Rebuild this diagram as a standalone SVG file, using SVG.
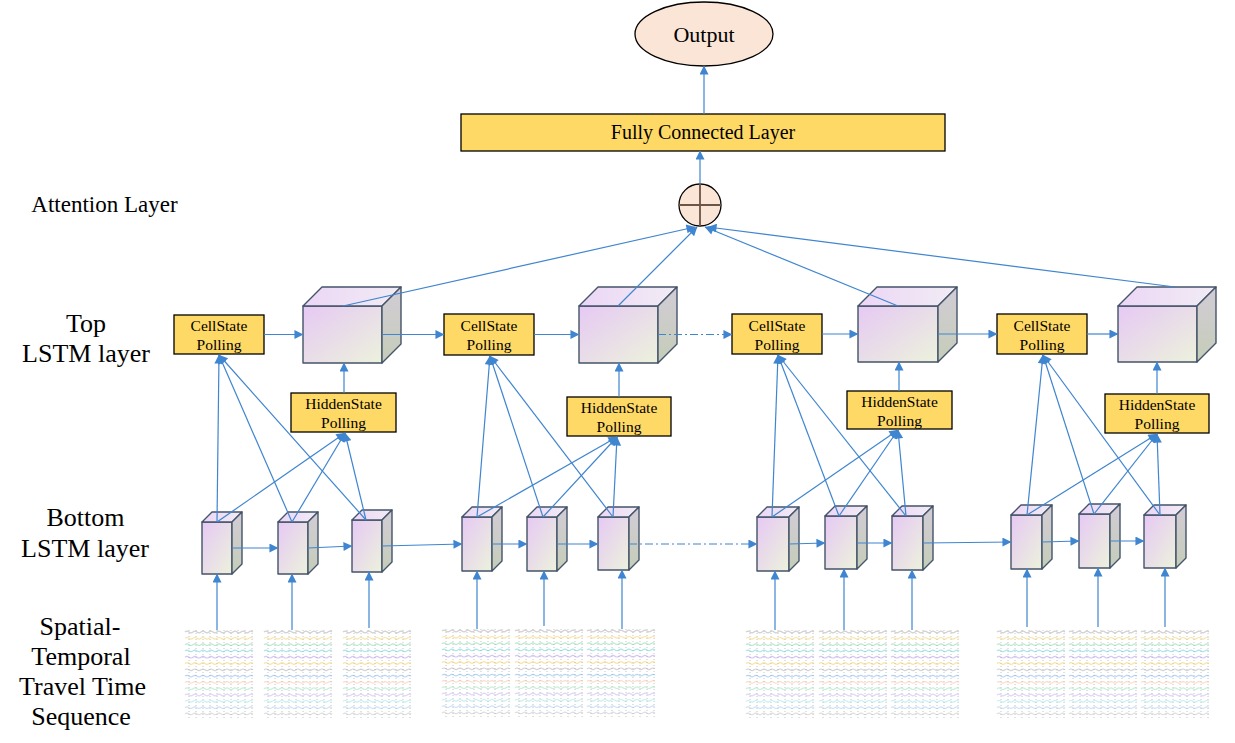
<svg xmlns="http://www.w3.org/2000/svg" xmlns:xlink="http://www.w3.org/1999/xlink" width="1235" height="743" viewBox="0 0 1235 743">
<style>
.lbl{font-family:"Liberation Serif",Tinos,"Times New Roman","DejaVu Serif","Noto Serif",serif;fill:#000;text-anchor:middle}
.box{fill:#FFD966;stroke:#000;stroke-width:1.3}
.bt{font-family:"Liberation Serif",Tinos,"Times New Roman","DejaVu Serif","Noto Serif",serif;font-size:15.5px;fill:#000;text-anchor:middle}
.fr{fill:url(#gFront);stroke:#44546A;stroke-width:1.4;stroke-linejoin:round}
.tp{fill:url(#gTop);stroke:#44546A;stroke-width:1.4;stroke-linejoin:round}
.sd{fill:url(#gSide);stroke:#44546A;stroke-width:1.4;stroke-linejoin:round}
.ca{fill:none;stroke:#3F85CF;stroke-width:1.2;marker-end:url(#ah)}
.dd{fill:none;stroke:#3F85CF;stroke-width:1.2;stroke-dasharray:8 3 2 3;marker-end:url(#ah)}
.w{fill:none;stroke-width:1.2;opacity:0.45}
</style>
<defs>
<linearGradient id="gFront" x1="0" y1="0" x2="1" y2="1"><stop offset="0" stop-color="#E6C9F4"/><stop offset="1" stop-color="#ECF2DC"/></linearGradient>
<linearGradient id="gTop" x1="0" y1="0" x2="1" y2="0"><stop offset="0" stop-color="#ECD6F6"/><stop offset="1" stop-color="#F1ECF4"/></linearGradient>
<linearGradient id="gSide" x1="0" y1="0" x2="0" y2="1"><stop offset="0" stop-color="#D2CCD6"/><stop offset="1" stop-color="#C5CDB8"/></linearGradient>
<marker id="ah" viewBox="0 0 10 10" refX="9.5" refY="5" markerWidth="10" markerHeight="9" markerUnits="userSpaceOnUse" orient="auto"><path d="M0,0 L10,5 L0,10 z" fill="#3F85CF"/></marker>
<path id="wave" d="M0,0 q2,-1.6 4,0 t4,0 t4,0 t4,0 t4,0 t4,0 t4,0 t4,0 t4,0 t4,0 t4,0 t4,0 t4,0 t4,0 t4,0 t4,0 t4,0"/>
<g id="seq">
<g stroke="#8A8A8A" stroke-width="0.9" stroke-dasharray="1 2" opacity="0.55">
<line x1="4" y1="0" x2="4" y2="88"/><line x1="11" y1="0" x2="11" y2="88"/><line x1="18" y1="0" x2="18" y2="88"/><line x1="25" y1="0" x2="25" y2="88"/><line x1="32" y1="0" x2="32" y2="88"/><line x1="39" y1="0" x2="39" y2="88"/><line x1="46" y1="0" x2="46" y2="88"/><line x1="53" y1="0" x2="53" y2="88"/><line x1="60" y1="0" x2="60" y2="88"/><line x1="67" y1="0" x2="67" y2="88"/>
</g>
<use href="#wave" y="2" class="w" stroke="#9A9A9A"/>
<use href="#wave" y="8.3" class="w" stroke="#F2C23A"/>
<use href="#wave" y="14.6" class="w" stroke="#5DCB8E"/>
<use href="#wave" y="20.9" class="w" stroke="#3FC7C9"/>
<use href="#wave" y="27.2" class="w" stroke="#A486E6"/>
<use href="#wave" y="33.5" class="w" stroke="#F2C23A"/>
<use href="#wave" y="39.8" class="w" stroke="#A0A0A0"/>
<use href="#wave" y="46.1" class="w" stroke="#5AA6E6"/>
<use href="#wave" y="52.4" class="w" stroke="#F4B08A"/>
<use href="#wave" y="58.7" class="w" stroke="#86DCA9"/>
<use href="#wave" y="65" class="w" stroke="#BBA4EE"/>
<use href="#wave" y="71.3" class="w" stroke="#86DCDC"/>
<use href="#wave" y="77.6" class="w" stroke="#8EBDED"/>
<use href="#wave" y="83.9" class="w" stroke="#B5B5B5"/>
</g>
</defs>
<rect width="1235" height="743" fill="#fff"/>

<g id="labels">
<text class="lbl" x="104.5" y="212" font-size="23">Attention Layer</text>
<text class="lbl" x="86" y="332" font-size="26">Top</text>
<text class="lbl" x="86" y="362" font-size="26">LSTM layer</text>
<text class="lbl" x="85.5" y="526" font-size="26">Bottom</text>
<text class="lbl" x="85" y="557" font-size="26">LSTM layer</text>
<text class="lbl" x="80" y="635" font-size="26">Spatial-</text>
<text class="lbl" x="81" y="665" font-size="26">Temporal</text>
<text class="lbl" x="82.5" y="695" font-size="26">Travel Time</text>
<text class="lbl" x="81" y="725" font-size="26">Sequence</text>
</g>

<g id="output"><ellipse cx="704" cy="34" rx="69" ry="32" fill="#FBE5D6" stroke="#000" stroke-width="1.3"/><text class="lbl" x="704" y="42" font-size="22">Output</text></g>
<g id="fc"><rect class="box" x="461" y="114" width="484" height="37"/><text class="lbl" x="703" y="138.5" font-size="20">Fully Connected Layer</text></g>
<g id="attention"><circle cx="700" cy="205" r="21" fill="#FBE5D6" stroke="#000" stroke-width="1.3"/><path d="M679,205 H721 M700,184 V226" stroke="#6B5646" stroke-width="1.8"/></g>

<g id="cs1"><rect class="box" x="174" y="315" width="90" height="39"/><text class="bt" x="219" y="331">CellState</text><text class="bt" x="219" y="350">Polling</text></g>
<g id="cs2"><rect class="box" x="444" y="314" width="90" height="41"/><text class="bt" x="489" y="331">CellState</text><text class="bt" x="489" y="350">Polling</text></g>
<g id="cs3"><rect class="box" x="732" y="314" width="90" height="40"/><text class="bt" x="777" y="331">CellState</text><text class="bt" x="777" y="350">Polling</text></g>
<g id="cs4"><rect class="box" x="997" y="314" width="90" height="40"/><text class="bt" x="1042" y="331">CellState</text><text class="bt" x="1042" y="350">Polling</text></g>

<g id="hs1"><rect class="box" x="291" y="393" width="105" height="39"/><text class="bt" x="343.5" y="409">HiddenState</text><text class="bt" x="343.5" y="428">Polling</text></g>
<g id="hs2"><rect class="box" x="567" y="397" width="104" height="39"/><text class="bt" x="619" y="413">HiddenState</text><text class="bt" x="619" y="432">Polling</text></g>
<g id="hs3"><rect class="box" x="847" y="391" width="105" height="38"/><text class="bt" x="899.5" y="407">HiddenState</text><text class="bt" x="899.5" y="426">Polling</text></g>
<g id="hs4"><rect class="box" x="1105" y="394" width="104" height="39"/><text class="bt" x="1157" y="410">HiddenState</text><text class="bt" x="1157" y="429">Polling</text></g>

<g id="top1"><rect class="fr" x="303" y="306" width="79" height="57"/><polygon class="tp" points="303,306 322,287 401,287 382,306"/><polygon class="sd" points="382,306 401,287 401,344 382,363"/></g>
<g id="top2"><rect class="fr" x="579" y="306" width="79" height="57"/><polygon class="tp" points="579,306 598,287 677,287 658,306"/><polygon class="sd" points="658,306 677,287 677,344 658,363"/></g>
<g id="top3"><rect class="fr" x="858" y="306" width="80" height="56"/><polygon class="tp" points="858,306 877,287 957,287 938,306"/><polygon class="sd" points="938,306 957,287 957,343 938,362"/></g>
<g id="top4"><rect class="fr" x="1118" y="306" width="79" height="56"/><polygon class="tp" points="1118,306 1137,287 1216,287 1197,306"/><polygon class="sd" points="1197,306 1216,287 1216,343 1197,362"/></g>

<g id="bot1"><rect class="fr" x="202" y="522" width="30" height="52"/><polygon class="tp" points="202,522 212,512 242,512 232,522"/><polygon class="sd" points="232,522 242,512 242,564 232,574"/></g>
<g id="bot2"><rect class="fr" x="278" y="522" width="30" height="52"/><polygon class="tp" points="278,522 288,512 318,512 308,522"/><polygon class="sd" points="308,522 318,512 318,564 308,574"/></g>
<g id="bot3"><rect class="fr" x="352" y="520" width="30" height="52"/><polygon class="tp" points="352,520 362,510 392,510 382,520"/><polygon class="sd" points="382,520 392,510 392,562 382,572"/></g>
<g id="bot4"><rect class="fr" x="462" y="517" width="30" height="54"/><polygon class="tp" points="462,517 472,507 502,507 492,517"/><polygon class="sd" points="492,517 502,507 502,561 492,571"/></g>
<g id="bot5"><rect class="fr" x="527" y="517" width="30" height="54"/><polygon class="tp" points="527,517 537,507 567,507 557,517"/><polygon class="sd" points="557,517 567,507 567,561 557,571"/></g>
<g id="bot6"><rect class="fr" x="598" y="517" width="31" height="53"/><polygon class="tp" points="598,517 608,507 639,507 629,517"/><polygon class="sd" points="629,517 639,507 639,560 629,570"/></g>
<g id="bot7"><rect class="fr" x="757" y="517" width="32" height="54"/><polygon class="tp" points="757,517 767,507 799,507 789,517"/><polygon class="sd" points="789,517 799,507 799,561 789,571"/></g>
<g id="bot8"><rect class="fr" x="825" y="516" width="32" height="53"/><polygon class="tp" points="825,516 835,506 867,506 857,516"/><polygon class="sd" points="857,516 867,506 867,559 857,569"/></g>
<g id="bot9"><rect class="fr" x="892" y="516" width="31" height="54"/><polygon class="tp" points="892,516 902,506 933,506 923,516"/><polygon class="sd" points="923,516 933,506 933,560 923,570"/></g>
<g id="bot10"><rect class="fr" x="1011" y="515" width="31" height="54"/><polygon class="tp" points="1011,515 1021,505 1052,505 1042,515"/><polygon class="sd" points="1042,515 1052,505 1052,559 1042,569"/></g>
<g id="bot11"><rect class="fr" x="1079" y="514" width="31" height="54"/><polygon class="tp" points="1079,514 1089,504 1120,504 1110,514"/><polygon class="sd" points="1110,514 1120,504 1120,558 1110,568"/></g>
<g id="bot12"><rect class="fr" x="1144" y="515" width="32" height="53"/><polygon class="tp" points="1144,515 1154,505 1186,505 1176,515"/><polygon class="sd" points="1176,515 1186,505 1186,558 1176,568"/></g>

<g id="sequences">
<use id="seq1" href="#seq" x="185" y="630"/>
<use id="seq2" href="#seq" x="264" y="630"/>
<use id="seq3" href="#seq" x="343" y="630"/>
<use id="seq4" href="#seq" x="442" y="629"/>
<use id="seq5" href="#seq" x="515" y="629"/>
<use id="seq6" href="#seq" x="587" y="629"/>
<use id="seq7" href="#seq" x="746" y="630"/>
<use id="seq8" href="#seq" x="819" y="630"/>
<use id="seq9" href="#seq" x="891" y="630"/>
<use id="seq10" href="#seq" x="997" y="630"/>
<use id="seq11" href="#seq" x="1069" y="630"/>
<use id="seq12" href="#seq" x="1141" y="630"/>
</g>

<g id="connectors">
<line class="ca" x1="704" y1="114" x2="704" y2="66"/>
<line class="ca" x1="700" y1="184" x2="700" y2="151"/>
<line class="ca" x1="343" y1="306" x2="695" y2="227"/>
<line class="ca" x1="618" y1="306" x2="697" y2="227"/>
<line class="ca" x1="898" y1="306" x2="705" y2="227"/>
<line class="ca" x1="1175" y1="287" x2="708" y2="227"/>

<line class="ca" x1="264" y1="334.5" x2="303" y2="334.5"/>
<line class="ca" x1="382" y1="334.5" x2="444" y2="334.5"/>
<line class="ca" x1="534" y1="334.5" x2="579" y2="334.5"/>
<line class="dd" x1="658" y1="334.5" x2="732" y2="334.5"/>
<line class="ca" x1="822" y1="334" x2="858" y2="334"/>
<line class="ca" x1="938" y1="334" x2="997" y2="334"/>
<line class="ca" x1="1087" y1="334" x2="1118" y2="334"/>

<line class="ca" x1="344" y1="393" x2="344" y2="363"/>
<line class="ca" x1="619" y1="397" x2="619" y2="363"/>
<line class="ca" x1="899" y1="391" x2="899" y2="362"/>
<line class="ca" x1="1157" y1="394" x2="1157" y2="362"/>

<line class="ca" x1="217" y1="522" x2="219" y2="355"/>
<line class="ca" x1="292" y1="522" x2="219" y2="355"/>
<line class="ca" x1="366" y1="520" x2="219" y2="355"/>
<line class="ca" x1="217" y1="522" x2="345" y2="433"/>
<line class="ca" x1="292" y1="522" x2="345" y2="433"/>
<line class="ca" x1="366" y1="520" x2="345" y2="433"/>

<line class="ca" x1="477" y1="517" x2="490" y2="356"/>
<line class="ca" x1="543" y1="517" x2="490" y2="356"/>
<line class="ca" x1="613" y1="517" x2="490" y2="356"/>
<line class="ca" x1="477" y1="517" x2="617" y2="437"/>
<line class="ca" x1="543" y1="517" x2="617" y2="437"/>
<line class="ca" x1="613" y1="517" x2="617" y2="437"/>

<line class="ca" x1="772" y1="517" x2="778" y2="355"/>
<line class="ca" x1="839" y1="516" x2="778" y2="355"/>
<line class="ca" x1="906" y1="516" x2="778" y2="355"/>
<line class="ca" x1="772" y1="517" x2="898" y2="430"/>
<line class="ca" x1="839" y1="516" x2="898" y2="430"/>
<line class="ca" x1="906" y1="516" x2="898" y2="430"/>

<line class="ca" x1="1027" y1="515" x2="1043" y2="355"/>
<line class="ca" x1="1094" y1="514" x2="1043" y2="355"/>
<line class="ca" x1="1160" y1="515" x2="1043" y2="355"/>
<line class="ca" x1="1027" y1="515" x2="1157" y2="434"/>
<line class="ca" x1="1094" y1="514" x2="1157" y2="434"/>
<line class="ca" x1="1160" y1="515" x2="1157" y2="434"/>

<line class="ca" x1="232" y1="548" x2="278" y2="548"/>
<line class="ca" x1="308" y1="548" x2="352" y2="546"/>
<line class="ca" x1="382" y1="546" x2="462" y2="544"/>
<line class="ca" x1="492" y1="544" x2="527" y2="544"/>
<line class="ca" x1="557" y1="544" x2="598" y2="544"/>
<line class="dd" x1="629" y1="544" x2="757" y2="544"/>
<line class="ca" x1="789" y1="544" x2="825" y2="543"/>
<line class="ca" x1="857" y1="543" x2="892" y2="543"/>
<line class="ca" x1="923" y1="543" x2="1011" y2="542"/>
<line class="ca" x1="1042" y1="542" x2="1079" y2="541"/>
<line class="ca" x1="1110" y1="541" x2="1144" y2="541"/>

<line class="ca" x1="217" y1="630" x2="217" y2="574"/>
<line class="ca" x1="292" y1="630" x2="292" y2="574"/>
<line class="ca" x1="369" y1="628" x2="369" y2="572"/>
<line class="ca" x1="477" y1="629" x2="477" y2="571"/>
<line class="ca" x1="544" y1="626" x2="544" y2="571"/>
<line class="ca" x1="622" y1="629" x2="622" y2="570"/>
<line class="ca" x1="775" y1="630" x2="775" y2="571"/>
<line class="ca" x1="844" y1="630" x2="844" y2="569"/>
<line class="ca" x1="912" y1="630" x2="912" y2="570"/>
<line class="ca" x1="1027" y1="627" x2="1027" y2="569"/>
<line class="ca" x1="1098" y1="627" x2="1098" y2="568"/>
<line class="ca" x1="1165" y1="627" x2="1165" y2="568"/>
</g>
</svg>
